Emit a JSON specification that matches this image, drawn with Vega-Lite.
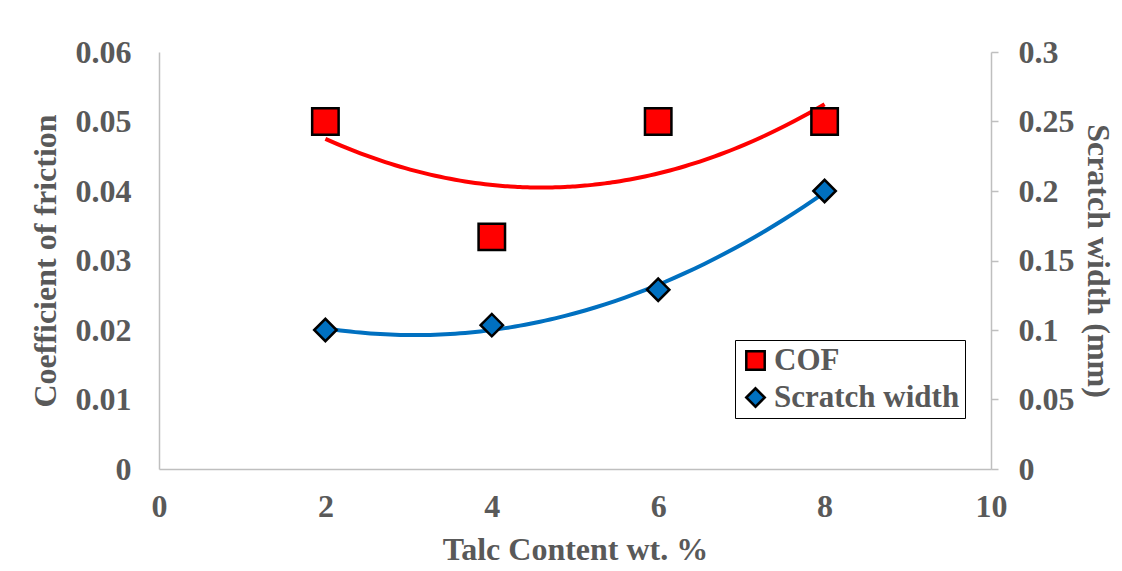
{
  "$schema": "https://vega.github.io/schema/vega-lite/v6.json",
  "width": 832,
  "height": 417,
  "autosize": {"type": "none"},
  "padding": {"left": 159, "top": 52, "right": 131, "bottom": 102},
  "background": "white",
  "config": {
    "view": {"stroke": null},
    "font": "Times New Roman, Liberation Serif, serif",
    "axis": {
      "grid": false,
      "labelFont": "Times New Roman, Liberation Serif, serif",
      "labelFontSize": 32,
      "labelFontWeight": "bold",
      "labelColor": "#595959",
      "labelFlush": false,
      "labelOverlap": false,
      "titleFont": "Times New Roman, Liberation Serif, serif",
      "titleFontSize": 32,
      "titleFontWeight": "bold",
      "titleColor": "#595959",
      "domainColor": "#BFBFBF",
      "domainWidth": 1.5,
      "tickColor": "#BFBFBF",
      "tickWidth": 1.5
    },
    "legend": {
      "labelFont": "Times New Roman, Liberation Serif, serif",
      "labelFontSize": 31,
      "labelFontWeight": "bold",
      "labelColor": "#595959",
      "labelLimit": 400
    }
  },
  "data": {
    "values": [
      {"talc": 2, "series": "COF", "value": 0.05},
      {"talc": 4, "series": "COF", "value": 0.0334},
      {"talc": 6, "series": "COF", "value": 0.05},
      {"talc": 8, "series": "COF", "value": 0.05},
      {"talc": 2, "series": "Scratch width", "value": 0.1},
      {"talc": 4, "series": "Scratch width", "value": 0.1035},
      {"talc": 6, "series": "Scratch width", "value": 0.129},
      {"talc": 8, "series": "Scratch width", "value": 0.2}
    ]
  },
  "encoding": {
    "x": {
      "field": "talc",
      "type": "quantitative",
      "scale": {"domain": [0, 10], "nice": false},
      "axis": {
        "title": "Talc Content wt. %",
        "values": [0, 2, 4, 6, 8, 10],
        "ticks": false,
        "labelPadding": 22,
        "titlePadding": 12
      }
    }
  },
  "layer": [
    {
      "transform": [{"filter": "datum.series === 'COF'"}],
      "encoding": {
        "y": {
          "field": "value",
          "type": "quantitative",
          "scale": {"domain": [0, 0.06], "nice": false},
          "axis": {
            "title": "Coefficient of friction",
            "orient": "left",
            "values": [0, 0.01, 0.02, 0.03, 0.04, 0.05, 0.06],
            "format": "~g",
            "ticks": false,
            "labelPadding": 28,
            "titlePadding": 13
          }
        }
      },
      "layer": [
        {
          "transform": [{"regression": "value", "on": "talc", "method": "poly", "order": 2}],
          "mark": {"type": "line", "color": "#FF0000", "strokeWidth": 4, "interpolate": "monotone"}
        },
        {
          "mark": {"type": "point", "filled": true, "stroke": "black", "strokeWidth": 2.5, "size": 700, "opacity": 1},
          "encoding": {
            "color": {
              "field": "series",
              "type": "nominal",
              "scale": {"domain": ["COF", "Scratch width"], "range": ["#FF0000", "#0070C0"]},
              "legend": {
                "title": null,
                "orient": "none",
                "legendX": 576,
                "legendY": 288,
                "strokeColor": "black",
                "fillColor": "white",
                "padding": 5,
                "symbolSize": 340,
                "symbolStrokeColor": "black",
                "symbolStrokeWidth": 2.5,
                "rowPadding": 5,
                "labelOffset": 3,
                "encode": {"legend": {"update": {"strokeWidth": {"value": 1.5}}}}
              }
            },
            "shape": {
              "field": "series",
              "type": "nominal",
              "scale": {"domain": ["COF", "Scratch width"], "range": ["square", "diamond"]},
              "legend": null
            }
          }
        }
      ]
    },
    {
      "transform": [{"filter": "datum.series === 'Scratch width'"}],
      "encoding": {
        "y": {
          "field": "value",
          "type": "quantitative",
          "scale": {"domain": [0, 0.3], "nice": false},
          "axis": {
            "title": "Scratch width (mm)",
            "orient": "right",
            "values": [0, 0.05, 0.1, 0.15, 0.2, 0.25, 0.3],
            "format": "~g",
            "ticks": true,
            "tickSize": 7,
            "labelPadding": 20,
            "titlePadding": 6
          }
        }
      },
      "layer": [
        {
          "transform": [{"regression": "value", "on": "talc", "method": "poly", "order": 2}],
          "mark": {"type": "line", "color": "#0070C0", "strokeWidth": 4, "interpolate": "monotone"}
        },
        {
          "mark": {"type": "point", "filled": true, "stroke": "black", "strokeWidth": 2.5, "size": 500, "opacity": 1},
          "encoding": {
            "color": {
              "field": "series",
              "type": "nominal",
              "scale": {"domain": ["COF", "Scratch width"], "range": ["#FF0000", "#0070C0"]}
            },
            "shape": {
              "field": "series",
              "type": "nominal",
              "scale": {"domain": ["COF", "Scratch width"], "range": ["square", "diamond"]},
              "legend": null
            }
          }
        }
      ]
    }
  ],
  "resolve": {"scale": {"y": "independent"}}
}
